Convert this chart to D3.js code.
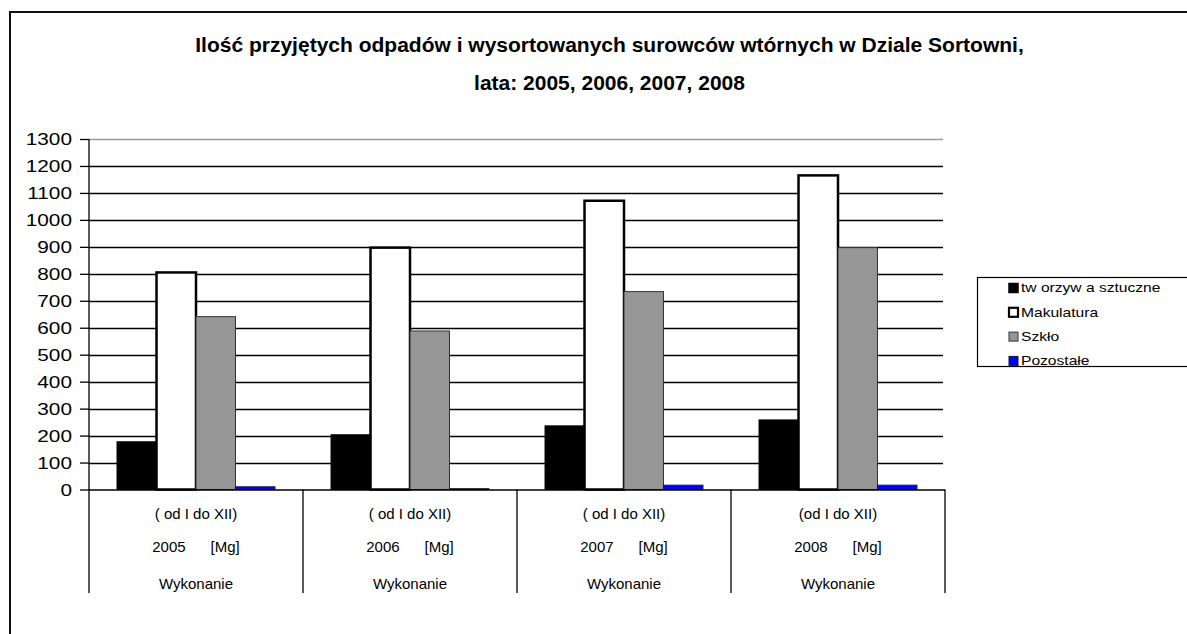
<!DOCTYPE html>
<html>
<head>
<meta charset="utf-8">
<script src="https://cdn.jsdelivr.net/npm/d3@7"></script>
<style>
  html, body { margin: 0; padding: 0; background: #fff; }
  svg { display: block; font-family: "Liberation Sans", Arial, sans-serif; }
  text { white-space: pre; }
</style>
</head>
<body>
<svg id="chart" width="1187" height="634"></svg>
<script>
// ---- data ----
const categories = ["2005", "2006", "2007", "2008"];
const catLine1 = ["( od I do XII)", "( od I do XII)", "( od I do XII)", "(od I do XII)"];
const catLine2 = ["2005      [Mg]", "2006      [Mg]", "2007      [Mg]", "2008      [Mg]"];
const catLine3 = ["Wykonanie", "Wykonanie", "Wykonanie", "Wykonanie"];
const seriesNames = ["tw orzyw a sztuczne", "Makulatura", "Szkło", "Pozostałe"];
const tworzywa = [177, 203, 236, 258];
const makulatura = [805, 897, 1071, 1165];
const szklo = [641, 588, 734, 897];
const pozostale = [10, 3, 16, 16];
const yTicks = [0, 100, 200, 300, 400, 500, 600, 700, 800, 900, 1000, 1100, 1200, 1300];
const titleLines = ["Ilość przyjętych odpadów i wysortowanych surowców wtórnych w Dziale Sortowni,", "lata: 2005, 2006, 2007, 2008"];

const seriesValues = [tworzywa, makulatura, szklo, pozostale];
const seriesStyle = [
  { fill: "#000000", stroke: "#000000", sw: 1 },
  { fill: "#ffffff", stroke: "#000000", sw: 2.5 },
  { fill: "#969696", stroke: "#333333", sw: 1 },
  { fill: "#0000ff", stroke: "#1a1a1a", sw: 1 }
];

const svg = d3.select("#chart");

// outer border
svg.append("path")
  .attr("d", "M10,640 V12 H1195")
  .attr("fill", "none").attr("stroke", "#111").attr("stroke-width", 2);

// title
svg.append("g").selectAll("text").data(titleLines).join("text")
  .attr("x", 609.5)
  .attr("y", (d, i) => 52 + i * 38)
  .attr("text-anchor", "middle")
  .attr("font-size", 21)
  .attr("font-weight", "bold")
  .attr("fill", "#000")
  .text(d => d);

// scales
const x0 = d3.scaleBand().domain(categories).range([89, 945]).paddingInner(0).paddingOuter(0);
const x1 = d3.scaleBand().domain(d3.range(seriesNames.length)).range([0, x0.bandwidth()])
  .paddingInner(0).paddingOuter(0.71);
const y = d3.scaleLinear().domain([0, 1300]).range([489.5, 139]);

// gridlines
svg.append("g").selectAll("line").data(yTicks.filter(t => t > 0)).join("line")
  .attr("x1", 89).attr("x2", 943)
  .attr("y1", d => Math.round(y(d)) + 0.5).attr("y2", d => Math.round(y(d)) + 0.5)
  .attr("stroke", d => d === 1300 ? "#9a9a9a" : "#000")
  .attr("stroke-width", 1.3);

// bars
const groups = svg.append("g").selectAll("g").data(categories).join("g")
  .attr("transform", d => `translate(${x0(d)},0)`);
groups.selectAll("rect")
  .data((c, ci) => seriesValues.map((vals, si) => ({ si, v: vals[ci] })))
  .join("rect")
  .attr("x", d => x1(d.si))
  .attr("width", x1.bandwidth())
  .attr("y", d => y(d.v))
  .attr("height", d => y(0) - y(d.v))
  .attr("fill", d => seriesStyle[d.si].fill)
  .attr("stroke", d => seriesStyle[d.si].stroke)
  .attr("stroke-width", d => seriesStyle[d.si].sw);

// y axis
const yAxis = d3.axisLeft(y).tickValues(yTicks).tickFormat(d3.format("d")).tickSize(9).tickPadding(0);
const yg = svg.append("g").attr("transform", "translate(89,0)").call(yAxis);
yg.select(".domain").remove();
yg.selectAll(".tick line").attr("stroke", "#000").attr("stroke-width", 1.3);
yg.selectAll(".tick text")
  .attr("x", 0).attr("dy", "0.36em")
  .attr("font-size", 16).attr("fill", "#000")
  .attr("font-family", "'Liberation Sans', Arial, sans-serif")
  .attr("transform", "translate(-17,0) scale(1.3,1)");
// y axis line (extends down through category label area)
svg.append("line").attr("x1", 89).attr("x2", 89).attr("y1", 139).attr("y2", 593)
  .attr("stroke", "#000").attr("stroke-width", 1.3);

// category axis baseline
svg.append("line").attr("x1", 89).attr("x2", 945).attr("y1", y(0) + 0.5).attr("y2", y(0) + 0.5)
  .attr("stroke", "#000").attr("stroke-width", 1.3);
// category separators
const bounds = categories.map(c => x0(c)).concat([x0(categories[categories.length - 1]) + x0.bandwidth()]);
svg.append("g").selectAll("line").data(bounds.slice(1)).join("line")
  .attr("x1", d => d).attr("x2", d => d)
  .attr("y1", y(0)).attr("y2", 593)
  .attr("stroke", "#000").attr("stroke-width", 1.3);

// category labels (three rows)
const rows = [catLine1, catLine2, catLine3];
const rowY = [518.5, 552, 588.5];
rows.forEach((arr, ri) => {
  svg.append("g").selectAll("text").data(categories).join("text")
    .attr("x", d => x0(d) + x0.bandwidth() / 2)
    .attr("y", rowY[ri])
    .attr("text-anchor", "middle")
    .attr("font-size", 15)
    .attr("fill", "#000")
    .text((d, i) => arr[i]);
});

// legend
const legend = svg.append("g");
legend.append("rect").attr("x", 977.5).attr("y", 277.5).attr("width", 230).attr("height", 89)
  .attr("fill", "#fff").attr("stroke", "#000").attr("stroke-width", 1.2);
const li = legend.selectAll("g.item").data(seriesNames).join("g").attr("class", "item")
  .attr("transform", (d, i) => `translate(0,${288 + i * 24.3})`);
li.append("rect")
  .attr("x", 1009).attr("y", -4.5).attr("width", 9).attr("height", 9)
  .attr("fill", (d, i) => seriesStyle[i].fill)
  .attr("stroke", (d, i) => seriesStyle[i].stroke)
  .attr("stroke-width", (d, i) => i === 1 ? 2.2 : (i === 0 ? 1.5 : 1));
li.append("text")
  .attr("x", 0).attr("y", 0).attr("dy", "0.34em")
  .attr("transform", "translate(1021,0) scale(1.2,1)")
  .attr("font-size", 13)
  .attr("fill", "#000")
  .text(d => d);
</script>
</body>
</html>
